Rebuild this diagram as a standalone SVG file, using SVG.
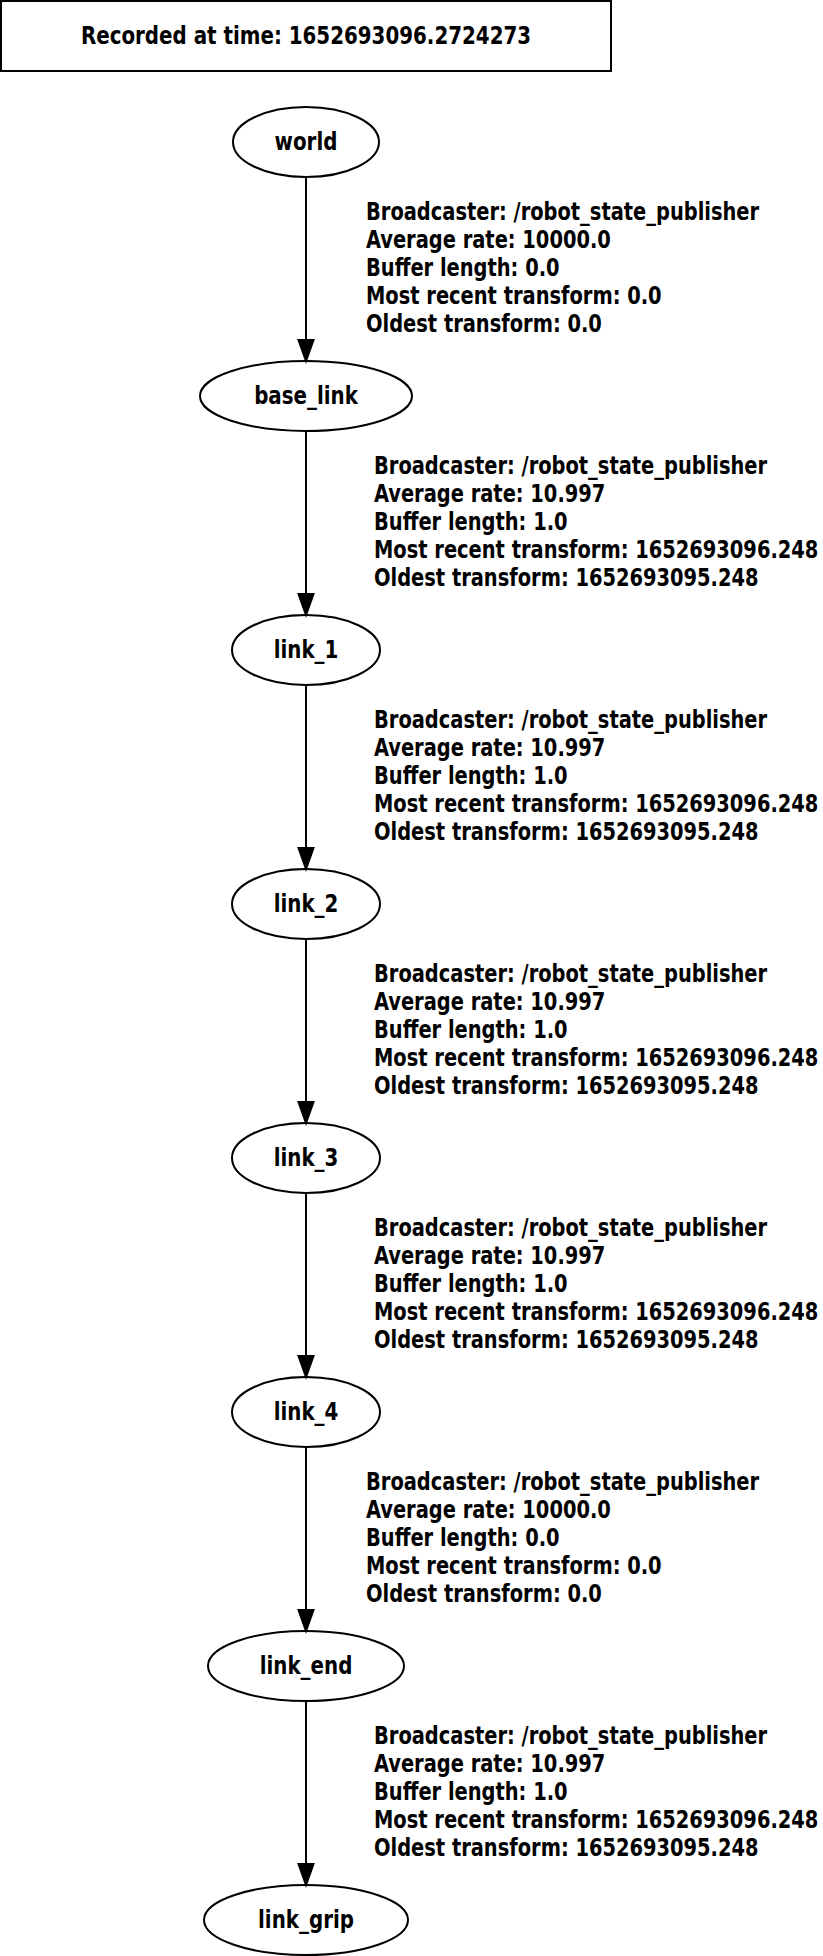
<svg xmlns="http://www.w3.org/2000/svg" width="823" height="1956" viewBox="0 0 823 1956">
<style>
text{font-family:"DejaVu Sans Condensed","DejaVu Sans",sans-serif;font-weight:bold;font-size:24px;fill:#000}
.n ellipse{fill:none;stroke:#000;stroke-width:2}
.c{text-anchor:middle}
.e line{stroke:#000;stroke-width:2}
.e polygon{fill:#000;stroke:#000;stroke-width:2}
</style>
<rect width="823" height="1956" fill="#fff"/>
<g id="title"><rect x="1" y="1" width="610" height="70" fill="none" stroke="#000" stroke-width="2"/><text class="c" transform="translate(306,0) scale(0.92,1)" x="0" y="44">Recorded at time: 1652693096.2724273</text></g>
<g class="n" id="world"><ellipse cx="306" cy="142" rx="73" ry="35"/><text class="c" transform="translate(306,0) scale(0.92,1)" x="0" y="150">world</text></g>
<g class="n" id="base_link"><ellipse cx="306" cy="396" rx="106" ry="35"/><text class="c" transform="translate(306,0) scale(0.92,1)" x="0" y="404">base_link</text></g>
<g class="n" id="link_1"><ellipse cx="306" cy="650" rx="74" ry="35"/><text class="c" transform="translate(306,0) scale(0.92,1)" x="0" y="658">link_1</text></g>
<g class="n" id="link_2"><ellipse cx="306" cy="904" rx="74" ry="35"/><text class="c" transform="translate(306,0) scale(0.92,1)" x="0" y="912">link_2</text></g>
<g class="n" id="link_3"><ellipse cx="306" cy="1158" rx="74" ry="35"/><text class="c" transform="translate(306,0) scale(0.92,1)" x="0" y="1166">link_3</text></g>
<g class="n" id="link_4"><ellipse cx="306" cy="1412" rx="74" ry="35"/><text class="c" transform="translate(306,0) scale(0.92,1)" x="0" y="1420">link_4</text></g>
<g class="n" id="link_end"><ellipse cx="306" cy="1666" rx="98" ry="35"/><text class="c" transform="translate(306,0) scale(0.92,1)" x="0" y="1674">link_end</text></g>
<g class="n" id="link_grip"><ellipse cx="306" cy="1920" rx="102" ry="35"/><text class="c" transform="translate(306,0) scale(0.92,1)" x="0" y="1928">link_grip</text></g>
<g class="e" id="edges">
<line x1="306" y1="177" x2="306" y2="340"/><polygon points="298.5,340 313.5,340 306,361"/>
<line x1="306" y1="431" x2="306" y2="594"/><polygon points="298.5,594 313.5,594 306,615"/>
<line x1="306" y1="685" x2="306" y2="848"/><polygon points="298.5,848 313.5,848 306,869"/>
<line x1="306" y1="939" x2="306" y2="1102"/><polygon points="298.5,1102 313.5,1102 306,1123"/>
<line x1="306" y1="1193" x2="306" y2="1356"/><polygon points="298.5,1356 313.5,1356 306,1377"/>
<line x1="306" y1="1447" x2="306" y2="1610"/><polygon points="298.5,1610 313.5,1610 306,1631"/>
<line x1="306" y1="1701" x2="306" y2="1864"/><polygon points="298.5,1864 313.5,1864 306,1885"/>
</g>
<g id="labels">
<text transform="translate(366,0) scale(0.9,1)" x="0" y="220"><tspan x="0">Broadcaster: /robot_state_publisher</tspan><tspan x="0" dy="28">Average rate: 10000.0</tspan><tspan x="0" dy="28">Buffer length: 0.0</tspan><tspan x="0" dy="28">Most recent transform: 0.0</tspan><tspan x="0" dy="28">Oldest transform: 0.0</tspan></text>
<text transform="translate(374,0) scale(0.9,1)" x="0" y="474"><tspan x="0">Broadcaster: /robot_state_publisher</tspan><tspan x="0" dy="28">Average rate: 10.997</tspan><tspan x="0" dy="28">Buffer length: 1.0</tspan><tspan x="0" dy="28">Most recent transform: 1652693096.248</tspan><tspan x="0" dy="28">Oldest transform: 1652693095.248</tspan></text>
<text transform="translate(374,0) scale(0.9,1)" x="0" y="728"><tspan x="0">Broadcaster: /robot_state_publisher</tspan><tspan x="0" dy="28">Average rate: 10.997</tspan><tspan x="0" dy="28">Buffer length: 1.0</tspan><tspan x="0" dy="28">Most recent transform: 1652693096.248</tspan><tspan x="0" dy="28">Oldest transform: 1652693095.248</tspan></text>
<text transform="translate(374,0) scale(0.9,1)" x="0" y="982"><tspan x="0">Broadcaster: /robot_state_publisher</tspan><tspan x="0" dy="28">Average rate: 10.997</tspan><tspan x="0" dy="28">Buffer length: 1.0</tspan><tspan x="0" dy="28">Most recent transform: 1652693096.248</tspan><tspan x="0" dy="28">Oldest transform: 1652693095.248</tspan></text>
<text transform="translate(374,0) scale(0.9,1)" x="0" y="1236"><tspan x="0">Broadcaster: /robot_state_publisher</tspan><tspan x="0" dy="28">Average rate: 10.997</tspan><tspan x="0" dy="28">Buffer length: 1.0</tspan><tspan x="0" dy="28">Most recent transform: 1652693096.248</tspan><tspan x="0" dy="28">Oldest transform: 1652693095.248</tspan></text>
<text transform="translate(366,0) scale(0.9,1)" x="0" y="1490"><tspan x="0">Broadcaster: /robot_state_publisher</tspan><tspan x="0" dy="28">Average rate: 10000.0</tspan><tspan x="0" dy="28">Buffer length: 0.0</tspan><tspan x="0" dy="28">Most recent transform: 0.0</tspan><tspan x="0" dy="28">Oldest transform: 0.0</tspan></text>
<text transform="translate(374,0) scale(0.9,1)" x="0" y="1744"><tspan x="0">Broadcaster: /robot_state_publisher</tspan><tspan x="0" dy="28">Average rate: 10.997</tspan><tspan x="0" dy="28">Buffer length: 1.0</tspan><tspan x="0" dy="28">Most recent transform: 1652693096.248</tspan><tspan x="0" dy="28">Oldest transform: 1652693095.248</tspan></text>
</g>
</svg>
